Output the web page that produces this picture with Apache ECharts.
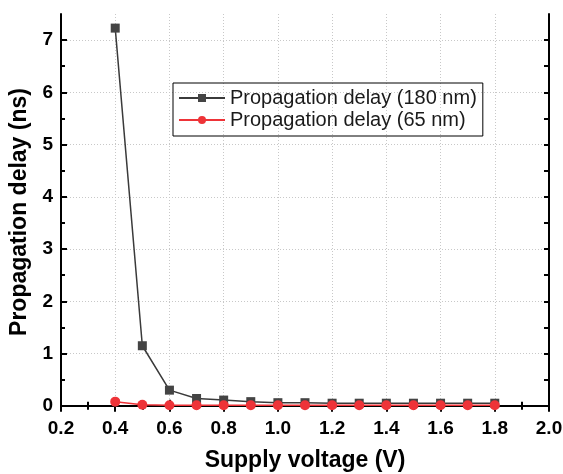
<!DOCTYPE html>
<html>
<head>
<meta charset="utf-8">
<script src="https://cdn.jsdelivr.net/npm/echarts@6/dist/echarts.min.js"></script>
<style>
  html, body { margin: 0; padding: 0; background: #fff; }
  #chart { width: 563px; height: 474px; }
</style>
</head>
<body>
<div id="chart"></div>
<script>
// supply voltage (V)
var voltages = [0.4, 0.5, 0.6, 0.7, 0.8, 0.9, 1.0, 1.1, 1.2, 1.3, 1.4, 1.5, 1.6, 1.7, 1.8];
// propagation delay (ns)
var delay180 = [7.23, 1.15, 0.30, 0.14, 0.11, 0.08, 0.06, 0.06, 0.05, 0.05, 0.05, 0.05, 0.05, 0.05, 0.05];
var delay65  = [0.08, 0.02, 0.01, 0.01, 0.01, 0.01, 0.01, 0.01, 0.01, 0.01, 0.01, 0.01, 0.01, 0.01, 0.01];
var yLabels = [0, 1, 2, 3, 4, 5, 6, 7];
var yTicks = [0, 0.5, 1, 1.5, 2, 2.5, 3, 3.5, 4, 4.5, 5, 5.5, 6, 6.5, 7];

function pairs(xs, ys) {
	var out = [];
	for (var i = 0; i < xs.length; i++) out.push([xs[i], ys[i]]);
	return out;
}

var font = 'Liberation Sans';
var yMin = -0.08, yMax = 7.5;
var chart = echarts.init(document.getElementById('chart'));

var tickStyle = { color: '#000', width: 2 };
var gridStyle = { color: '#c8c8c8', type: [1, 2], width: 1 };

var option = {
	backgroundColor: '#fff',
	animation: false,
	textStyle: { fontFamily: font },
	grid: { left: 61, right: 14, top: 14, bottom: 64, outerBoundsMode: 'none', containLabel: false },
	legend: {
		orient: 'vertical',
		left: 173, top: 83,
		borderColor: '#000', borderWidth: 1,
		padding: [5, 6, 6, 5],
		itemGap: 2,
		itemWidth: 46, itemHeight: 10,
		textStyle: { fontFamily: font, fontSize: 20, color: '#1a1a1a' },
		data: ['Propagation delay (180 nm)', 'Propagation delay (65 nm)']
	},
	xAxis: [
		{
			type: 'value', min: 0.2, max: 2.0, interval: 0.2,
			name: 'Supply voltage (V)', nameLocation: 'middle', nameGap: 39,
			nameTextStyle: { fontFamily: font, fontWeight: 'bold', fontSize: 23, color: '#000' },
			axisLine: { lineStyle: { color: '#000', width: 2 } },
			axisTick: { inside: true, length: 6, lineStyle: tickStyle },
			minorTick: { show: true, splitNumber: 2, length: 4, lineStyle: tickStyle },
			axisLabel: { fontFamily: font, fontWeight: 'bold', fontSize: 19, color: '#000', margin: 9,
				formatter: function (v) { return v.toFixed(1); } },
			splitLine: { show: true, lineStyle: gridStyle }
		},
		{
			type: 'value', position: 'top', min: 0.2, max: 2.0, interval: 0.2,
			axisLine: { lineStyle: { color: '#000', width: 2 } },
			axisTick: { inside: true, length: 6, lineStyle: tickStyle },
			minorTick: { show: true, splitNumber: 2, length: 4, lineStyle: tickStyle },
			axisLabel: { show: false },
			splitLine: { show: false }
		}
	],
	yAxis: [
		{
			type: 'value', min: yMin, max: yMax,
			name: 'Propagation delay (ns)', nameLocation: 'middle', nameGap: 29,
			nameTextStyle: { fontFamily: font, fontWeight: 'bold', fontSize: 23, color: '#000' },
			axisLine: { lineStyle: { color: '#000', width: 2 } },
			axisTick: { inside: true, length: 6, customValues: yLabels, lineStyle: tickStyle },
			axisLabel: { fontFamily: font, fontWeight: 'bold', fontSize: 19, color: '#000', margin: 8,
				customValues: yLabels },
			splitLine: { show: true, lineStyle: gridStyle }
		},
		{
			// minor ticks on the left side
			type: 'value', position: 'left', min: yMin, max: yMax,
			axisLine: { show: false },
			axisTick: { inside: true, length: 4, customValues: yTicks, lineStyle: tickStyle },
			axisLabel: { show: false, customValues: yTicks },
			splitLine: { show: false }
		},
		{
			type: 'value', position: 'right', min: yMin, max: yMax,
			axisLine: { lineStyle: { color: '#000', width: 2 } },
			axisTick: { inside: true, length: 5, customValues: yTicks, lineStyle: tickStyle },
			axisLabel: { show: false, customValues: yTicks },
			splitLine: { show: false }
		}
	],
	series: [
		{
			name: 'Propagation delay (180 nm)',
			type: 'line',
			data: pairs(voltages, delay180),
			symbol: 'rect', symbolSize: 9,
			itemStyle: { color: '#444' },
			lineStyle: { color: '#3a3a3a', width: 1.5 },
			z: 3
		},
		{
			name: 'Propagation delay (65 nm)',
			type: 'line',
			data: pairs(voltages, delay65),
			symbol: 'circle', symbolSize: 10,
			itemStyle: { color: '#ee3338' },
			lineStyle: { color: '#ee3338', width: 1.5 },
			z: 4
		}
	]
};

chart.setOption(option);
</script>
</body>
</html>
